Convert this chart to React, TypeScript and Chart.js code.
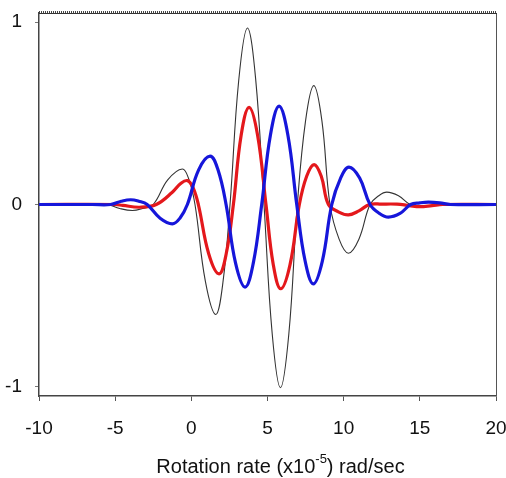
import React, { useEffect, useRef } from 'react';
import { Chart, registerables } from 'chart.js';

Chart.register(...registerables);

// Rotation rate (x10^-5 rad/sec) sample positions and values
const blackX = [-10, -6, -5.5, -4.7, -3.87, -3.2, -2.5, -1.55, -0.59, -0.17, 0.24, 0.92, 1.6, 2.07, 2.54, 3.11, 3.68, 4.22, 4.77, 5.31, 5.85, 6.4, 6.96, 7.5, 8.04, 8.57, 9.1, 9.7, 10.31, 11.0, 11.73, 12.3, 12.83, 13.6, 14.36, 14.9, 15.5, 16.3, 17, 20];
const blackY = [0, 0, 0, -0.022, -0.033, -0.022, 0, 0.135, 0.195, 0.14, 0, -0.42, -0.603, -0.43, 0, 0.68, 0.968, 0.69, 0, -0.71, -1.005, -0.71, 0, 0.46, 0.652, 0.46, 0, -0.19, -0.267, -0.19, 0, 0.048, 0.068, 0.048, 0, -0.006, -0.008, -0.004, 0, 0];

const redX = [-10, -5, -4.5, -3.4, -2.3, -1.25, -0.7, -0.26, 0.1, 0.46, 1.14, 1.82, 2.29, 2.76, 3.27, 3.79, 4.35, 4.9, 5.38, 5.87, 6.48, 7.09, 7.57, 8.06, 8.53, 9.0, 9.65, 10.31, 11.0, 11.7, 12.5, 13.5, 14.3, 15.0, 15.8, 16.5, 20];
const redY = [0, 0, -0.005, -0.015, 0, 0.067, 0.115, 0.131, 0.095, 0, -0.27, -0.38, -0.27, 0, 0.38, 0.533, 0.38, 0, -0.33, -0.462, -0.33, 0, 0.155, 0.219, 0.155, 0, -0.04, -0.057, -0.035, 0, 0.002, 0.002, -0.006, -0.012, -0.006, 0, 0];

const blueX = [-10, -6.5, -5.3, -4.6, -3.98, -3.45, -2.9, -2.05, -1.25, -0.75, -0.26, 0.48, 1.23, 1.75, 2.28, 2.9, 3.53, 4.07, 4.62, 5.19, 5.76, 6.34, 6.92, 7.47, 8.01, 8.6, 9.22, 9.8, 10.35, 11.05, 11.73, 12.35, 12.94, 13.7, 14.4, 15.0, 15.56, 16.3, 17, 20];
const blueY = [0, 0, 0, 0.018, 0.026, 0.018, 0, -0.075, -0.106, -0.075, 0, 0.19, 0.265, 0.19, 0, -0.32, -0.453, -0.32, 0, 0.38, 0.539, 0.38, 0, -0.31, -0.435, -0.31, 0, 0.145, 0.205, 0.145, 0, -0.049, -0.069, -0.049, 0, 0.009, 0.013, 0.009, 0, 0];

const xTicks = [-10, -5, 0, 5, 10, 15, 20];
const yTicks = [-1, 0, 1];

const titleMain = 'Rotation rate (x10';
const titleSup = '-5';
const titleEnd = ') rad/sec';

const FONT = '"Liberation Sans", Arial, Helvetica, sans-serif';

const framePlugin = {
  id: 'frame',
  afterDraw(chart: any) {
    const { ctx, chartArea: a } = chart;
    ctx.save();
    // right border
    ctx.strokeStyle = '#555';
    ctx.lineWidth = 1;
    ctx.beginPath();
    ctx.moveTo(a.right + 0.5, a.top);
    ctx.lineTo(a.right + 0.5, a.bottom);
    ctx.stroke();
    // top border (thick dotted)
    ctx.strokeStyle = '#333';
    ctx.lineWidth = 1;
    ctx.beginPath();
    ctx.moveTo(a.left, a.top + 0.5);
    ctx.lineTo(a.right + 1, a.top + 0.5);
    ctx.stroke();
    ctx.strokeStyle = '#444';
    ctx.setLineDash([1, 1]);
    ctx.lineWidth = 2;
    ctx.beginPath();
    ctx.moveTo(a.left, a.top - 1);
    ctx.lineTo(a.right + 1, a.top - 1);
    ctx.stroke();
    ctx.setLineDash([]);

    // axis title with superscript
    const mainFont = '20px ' + FONT;
    const supFont = '13px ' + FONT;
    ctx.font = mainFont;
    const w1 = ctx.measureText(titleMain).width;
    const w3 = ctx.measureText(titleEnd).width;
    ctx.font = supFont;
    const w2 = ctx.measureText(titleSup).width;
    const total = w1 + w2 + w3;
    const cx = (a.left + a.right) / 2 + 13;
    let x = cx - total / 2;
    const baseY = chart.height - 5;
    ctx.fillStyle = '#111';
    ctx.textBaseline = 'alphabetic';
    ctx.textAlign = 'left';
    ctx.font = mainFont;
    ctx.fillText(titleMain, x, baseY);
    x += w1;
    ctx.font = supFont;
    ctx.fillText(titleSup, x, baseY - 10);
    x += w2;
    ctx.font = mainFont;
    ctx.fillText(titleEnd, x, baseY);
    ctx.restore();
  },
};

export default function App() {
  const ref = useRef<HTMLCanvasElement | null>(null);

  useEffect(() => {
    if (!ref.current) return;
    const toPts = (xs: number[], ys: number[]) => xs.map((x, i) => ({ x, y: ys[i] }));
    const common = { pointRadius: 0, tension: 0.4, cubicInterpolationMode: 'default' as const };
    const chart = new Chart(ref.current, {
      type: 'line',
      data: {
        datasets: [
          {
            label: 'blue',
            data: toPts(blueX, blueY),
            borderColor: 'rgb(22, 22, 218)',
            borderWidth: 3.2,
            order: 1,
            ...common,
          },
          {
            label: 'red',
            data: toPts(redX, redY),
            borderColor: 'rgb(228, 24, 28)',
            borderWidth: 3.2,
            order: 2,
            ...common,
          },
          {
            label: 'black',
            data: toPts(blackX, blackY),
            borderColor: '#333',
            borderWidth: 1.1,
            order: 3,
            ...common,
          },
        ],
      },
      options: {
        animation: false,
        responsive: true,
        maintainAspectRatio: false,
        layout: { padding: { left: 0, right: 10, top: 13, bottom: 0 } },
        plugins: { legend: { display: false }, tooltip: { enabled: false }, title: { display: false } },
        scales: {
          x: {
            type: 'linear',
            min: -10,
            max: 20,
            afterBuildTicks: (s: any) => {
              s.ticks = xTicks.map((v) => ({ value: v }));
            },
            afterFit: (s: any) => {
              s.height = 82;
              s.paddingLeft = 0;
              s.paddingRight = 0;
            },
            border: { display: true, color: '#444', width: 1.5 },
            grid: { display: true, drawOnChartArea: false, drawTicks: true, tickLength: 5, color: '#555' },
            ticks: {
              font: { family: FONT, size: 19 },
              color: '#111',
              padding: 16,
              maxRotation: 0,
              autoSkip: false,
            },
          },
          y: {
            type: 'linear',
            min: -1.05,
            max: 1.05,
            afterBuildTicks: (s: any) => {
              s.ticks = yTicks.map((v) => ({ value: v }));
            },
            afterFit: (s: any) => {
              s.width = 39;
              s.paddingTop = 0;
              s.paddingBottom = 0;
            },
            border: { display: true, color: '#444', width: 1.5 },
            grid: { display: true, drawOnChartArea: false, drawTicks: true, tickLength: 4, color: '#777' },
            ticks: {
              font: { family: FONT, size: 19 },
              color: '#111',
              padding: 13,
              autoSkip: false,
            },
          },
        },
      },
      plugins: [framePlugin],
    });
    return () => chart.destroy();
  }, []);

  return (
    <div style={{ position: 'fixed', left: 0, top: 0, width: 506, height: 478, background: '#fff' }}>
      <canvas ref={ref} />
    </div>
  );
}
